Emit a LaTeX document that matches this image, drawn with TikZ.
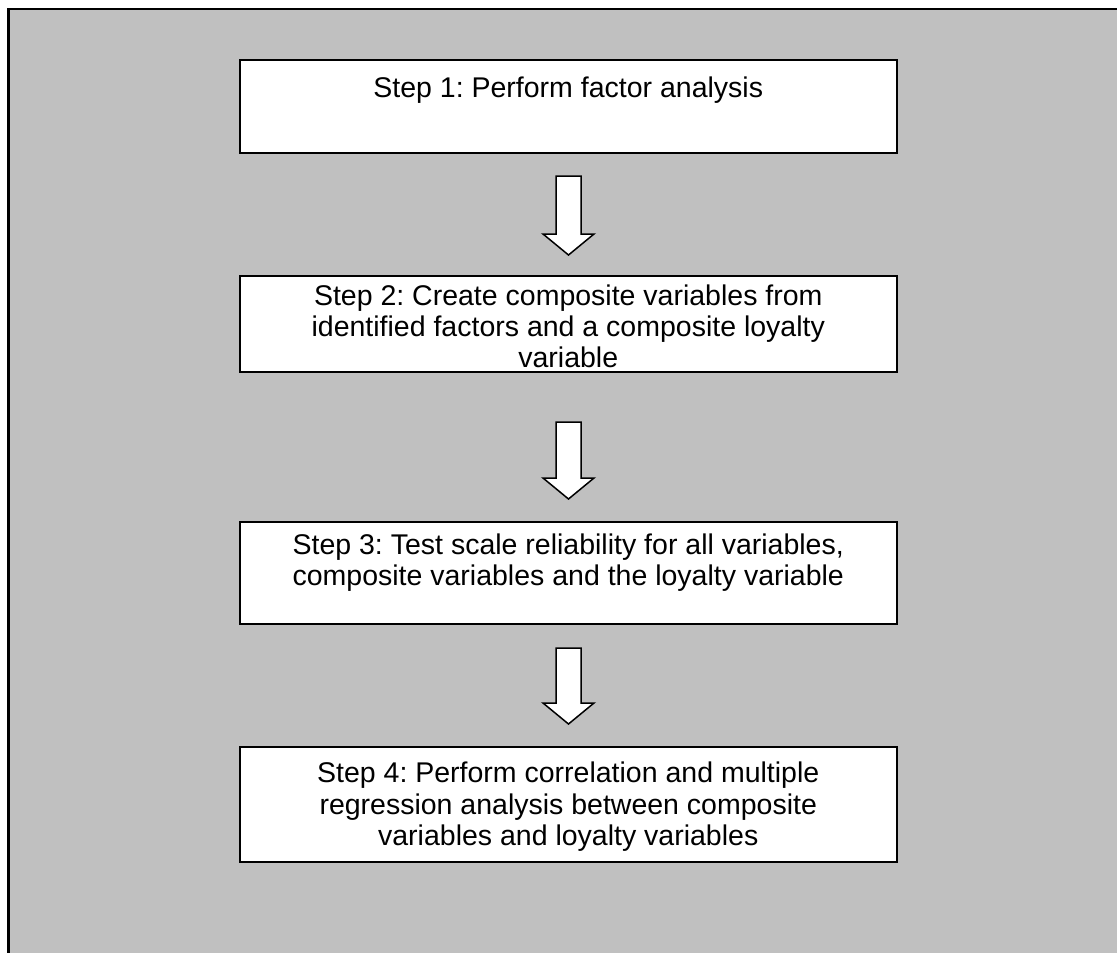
\documentclass[tikz,border=0pt]{standalone}
\usepackage{fontspec}
\setmainfont{Liberation Sans}
\definecolor{panelgrey}{HTML}{C0C0C0}
\frenchspacing
\begin{document}
\begin{tikzpicture}[x=1pt,y=-1pt,
  stepbox/.style={draw=black,line width=2pt,fill=white},
  steptext/.style={anchor=north,align=center,inner sep=0pt,
    font=\fontsize{28.5}{31.3}\selectfont},
  flowarrow/.style={draw=black,line width=1.5pt,fill=white,line join=miter}]
\useasboundingbox (0,0) rectangle (1117,953);
% panel
\fill[panelgrey] (8.5,9) rectangle (1117,953);
\draw[line width=2.5pt] (8.5,953) -- (8.5,9) -- (1117,9);

% step boxes
\draw[stepbox] (239.5,60) rectangle (897,153);
\draw[stepbox] (239.5,275.5) rectangle (897,372);
\draw[stepbox] (239.5,521.5) rectangle (897,624);
\draw[stepbox] (239.5,747) rectangle (897,862);

\node[steptext] (s1) at (568.25,77) {Step 1: Perform factor analysis};
\node[steptext] (s2) at (568.25,284.5) {Step 2: Create composite variables from\\identified factors and a composite loyalty\\variable};
\node[steptext] (s3) at (568.25,533.5) {Step 3: Test scale reliability for all variables,\\composite variables and the loyalty variable};
\node[steptext] (s4) at (568.25,762) {Step 4: Perform correlation and multiple\\regression analysis between composite\\variables and loyalty variables};

% block arrows between steps
\foreach \top/\tip in {176/255, 422/499, 648/724}{
  \draw[flowarrow] (556,\top) -- (581,\top) -- (581,\tip-21) -- (594,\tip-21)
    -- (568.5,\tip) -- (543,\tip-21) -- (556,\tip-21) -- cycle;
}
\end{tikzpicture}
\end{document}
